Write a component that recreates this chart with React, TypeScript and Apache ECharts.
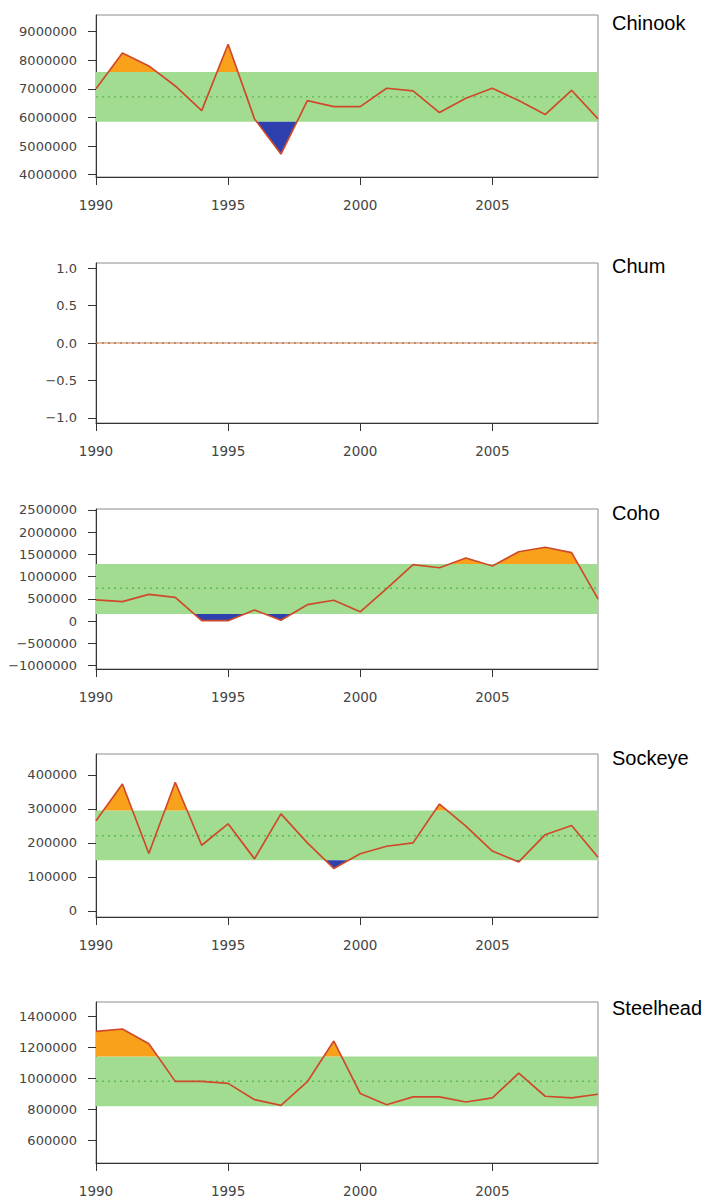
import React, { useEffect, useRef } from "react";
import * as echarts from "echarts";

// ---------- data ----------
const years = [1990, 1991, 1992, 1993, 1994, 1995, 1996, 1997, 1998, 1999, 2000, 2001, 2002, 2003, 2004, 2005, 2006, 2007, 2008, 2009];
const xTicks = [1990, 1995, 2000, 2005];

const speciesNames = ["Chinook", "Chum", "Coho", "Sockeye", "Steelhead"];

const chinook = [7000000, 8250000, 7800000, 7100000, 6240000, 8560000, 5950000, 4720000, 6590000, 6380000, 6380000, 7020000, 6930000, 6170000, 6670000, 7020000, 6590000, 6100000, 6950000, 5950000];
const chum = [0, 0, 0, 0, 0, 0, 0, 0, 0, 0, 0, 0, 0, 0, 0, 0, 0, 0, 0, 0];
const coho = [480000, 440000, 603000, 535000, 10000, 10000, 250000, 20000, 370000, 470000, 210000, 730000, 1270000, 1200000, 1420000, 1240000, 1560000, 1660000, 1540000, 500000];
const sockeye = [265000, 373000, 169000, 378000, 193000, 256000, 153000, 285000, 200000, 125000, 168000, 190000, 200000, 314000, 249000, 176000, 144000, 224000, 251000, 158000];
const steelhead = [1302000, 1318000, 1222000, 980000, 980000, 967000, 862000, 825000, 978000, 1240000, 902000, 829000, 880000, 880000, 847000, 873000, 1033000, 884000, 873000, 897000];

// [lower, mean, upper] of the shaded band
const chinookBand = [5850000, 6720000, 7590000];
const chumBand = [0, 0, 0];
const cohoBand = [160000, 738000, 1285000];
const sockeyeBand = [149000, 221000, 295000];
const steelheadBand = [820000, 981000, 1140000];

// y tick labels
const chinookTicks = [4000000, 5000000, 6000000, 7000000, 8000000, 9000000];
const chumTicks = [-1, -0.5, 0, 0.5, 1];
const cohoTicks = [-1000000, -500000, 0, 500000, 1000000, 1500000, 2000000, 2500000];
const sockeyeTicks = [0, 100000, 200000, 300000, 400000];
const steelheadTicks = [600000, 800000, 1000000, 1200000, 1400000];

// y axis ranges [min, max]
const chinookRange = [3920000, 9580000];
const chumRange = [-1.07, 1.07];
const cohoRange = [-1075000, 2520000];
const sockeyeRange = [-17700, 461000];
const steelheadRange = [453500, 1492000];

const panels = [
  { values: chinook, band: chinookBand, ticks: chinookTicks, range: chinookRange, decimals: 0 },
  { values: chum, band: chumBand, ticks: chumTicks, range: chumRange, decimals: 1 },
  { values: coho, band: cohoBand, ticks: cohoTicks, range: cohoRange, decimals: 0 },
  { values: sockeye, band: sockeyeBand, ticks: sockeyeTicks, range: sockeyeRange, decimals: 0 },
  { values: steelhead, band: steelheadBand, ticks: steelheadTicks, range: steelheadRange, decimals: 0 },
];

// ---------- layout / style ----------
const gridTops = [15, 263, 509, 754, 1002];
const gridHeights = [162, 160, 160, 163, 161];
const titleCenters = [23, 266, 513, 758, 1008];
const GRID_LEFT = 96;
const GRID_WIDTH = 502;

const BAND_COLOR = "#a2dc90";
const MEAN_COLOR = "#5cb352";
const ABOVE_COLOR = "#f9a11b";
const BELOW_COLOR = "#2e3fae";
const LINE_COLOR = "#cf4a2a";
const AXIS_COLOR = "#333";
const LABEL_COLOR = "#444";
const FONT = "DejaVu Sans";

type Pt = [number, number];

// polygons where the series is beyond `level` (sign=+1 above, -1 below)
function excursions(xs: number[], ys: number[], level: number, sign: number): Pt[][] {
  const polys: Pt[][] = [];
  let cur: Pt[] | null = null;
  for (let i = 0; i < xs.length; i++) {
    const d = sign * (ys[i] - level);
    if (d > 0) {
      if (!cur) {
        if (i === 0) {
          cur = [[xs[0], level]];
        } else {
          const dp = sign * (ys[i - 1] - level);
          const t = dp / (dp - d);
          cur = [[xs[i - 1] + t * (xs[i] - xs[i - 1]), level]];
        }
      }
      cur.push([xs[i], ys[i]]);
    } else if (cur) {
      const dp = sign * (ys[i - 1] - level);
      const t = dp / (dp - d);
      cur.push([xs[i - 1] + t * (xs[i] - xs[i - 1]), level]);
      polys.push(cur);
      cur = null;
    }
  }
  if (cur) {
    cur.push([xs[xs.length - 1], level]);
    polys.push(cur);
  }
  return polys;
}

function fmt(v: number, decimals: number): string {
  const s = decimals > 0 ? v.toFixed(decimals) : String(Math.round(v));
  return s.replace("-", "\u2212");
}

function buildOption() {
  const grid: any[] = [];
  const xAxis: any[] = [];
  const yAxis: any[] = [];
  const series: any[] = [];
  const graphic: any[] = [];
  const x0 = years[0];
  const x1 = years[years.length - 1];

  panels.forEach((p, i) => {
    grid.push({
      left: GRID_LEFT,
      top: gridTops[i],
      width: GRID_WIDTH,
      height: gridHeights[i],
      show: true,
      borderColor: "#8c8c8c",
      borderWidth: 1,
      backgroundColor: "transparent",
      containLabel: false,
      outerBoundsMode: "none",
    });
    xAxis.push({
      gridIndex: i,
      type: "value",
      min: x0,
      max: x1,
      axisLine: { show: true, onZero: false, lineStyle: { color: AXIS_COLOR, width: 1 } },
      axisTick: { show: true, length: 8, customValues: xTicks, lineStyle: { color: AXIS_COLOR } },
      axisLabel: {
        customValues: xTicks,
        margin: 21,
        fontFamily: FONT,
        fontSize: 13.5,
        color: LABEL_COLOR,
        hideOverlap: false,
        formatter: (v: number) => String(v),
      },
      splitLine: { show: false },
    });
    yAxis.push({
      gridIndex: i,
      type: "value",
      min: p.range[0],
      max: p.range[1],
      axisLine: { show: true, onZero: false, lineStyle: { color: AXIS_COLOR, width: 1 } },
      axisTick: { show: true, length: 8, customValues: p.ticks, lineStyle: { color: AXIS_COLOR } },
      axisLabel: {
        customValues: p.ticks,
        margin: 19,
        fontFamily: FONT,
        fontSize: 13,
        color: LABEL_COLOR,
        formatter: (v: number) => fmt(v, p.decimals),
      },
      splitLine: { show: false },
    });

    const [lower, mean, upper] = p.band;
    const shapes: { pts: Pt[]; color: string }[] = [];
    shapes.push({ pts: [[x0, lower], [x1, lower], [x1, upper], [x0, upper]], color: BAND_COLOR });
    excursions(years, p.values, upper, 1).forEach((poly) => shapes.push({ pts: poly, color: ABOVE_COLOR }));
    excursions(years, p.values, lower, -1).forEach((poly) => shapes.push({ pts: poly, color: BELOW_COLOR }));

    series.push({
      type: "custom",
      xAxisIndex: i,
      yAxisIndex: i,
      silent: true,
      data: shapes.map((s) => [s.pts[0][0], s.pts[0][1]]),
      renderItem: (params: any, api: any) => {
        const s = shapes[params.dataIndex];
        return {
          type: "polygon",
          shape: { points: s.pts.map((pt) => api.coord(pt)) },
          style: { fill: s.color, stroke: "none" },
        };
      },
    });
    series.push({
      type: "line",
      xAxisIndex: i,
      yAxisIndex: i,
      silent: true,
      symbol: "none",
      data: [[x0, mean], [x1, mean]],
      lineStyle: { color: MEAN_COLOR, width: 1.4, type: [2, 4], opacity: 0.9 },
    });
    series.push({
      type: "line",
      xAxisIndex: i,
      yAxisIndex: i,
      silent: true,
      symbol: "none",
      data: years.map((y, k) => [y, p.values[k]]),
      lineStyle: { color: LINE_COLOR, width: 1.7, opacity: i === 1 ? 0.5 : 1 },
    });

    graphic.push({
      type: "text",
      x: 612,
      y: titleCenters[i],
      silent: true,
      style: {
        text: speciesNames[i],
        fill: "#000",
        fontSize: 20,
        fontFamily: "Liberation Sans",
        verticalAlign: "middle",
        align: "left",
      },
    });
  });

  return {
    animation: false,
    backgroundColor: "#fff",
    grid,
    xAxis,
    yAxis,
    series,
    graphic,
  };
}

export default function App() {
  const ref = useRef<HTMLDivElement>(null);
  useEffect(() => {
    if (!ref.current) return;
    const chart = echarts.init(ref.current, null, { renderer: "svg" });
    chart.setOption(buildOption() as any);
    return () => chart.dispose();
  }, []);
  return (
    <div
      ref={ref}
      style={{ position: "absolute", left: 0, top: 0, width: 705, height: 1199, background: "#fff" }}
    />
  );
}
